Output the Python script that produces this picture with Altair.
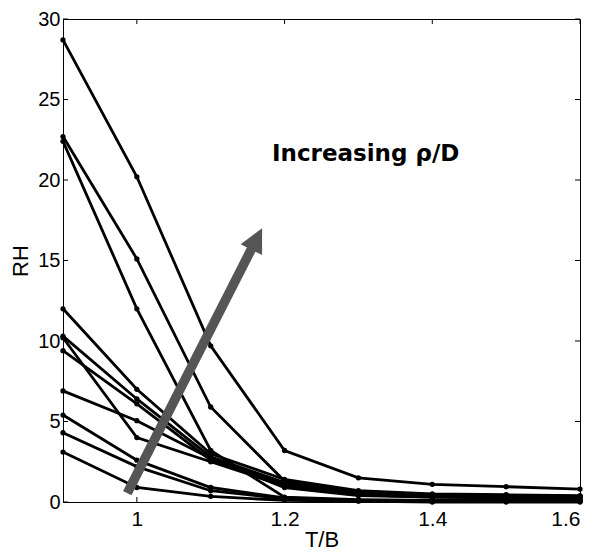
import altair as alt
import pandas as pd

# T/B positions
tb = [0.9, 1.0, 1.1, 1.2, 1.3, 1.4, 1.5, 1.6]

# RH series
rh_1 = [28.7, 20.2, 9.7, 3.2, 1.5, 1.1, 0.95, 0.8]
rh_2 = [22.7, 15.1, 5.9, 1.3, 0.6, 0.45, 0.4, 0.35]
rh_3 = [22.4, 12.0, 3.2, 0.3, 0.15, 0.1, 0.1, 0.1]
rh_4 = [12.0, 7.0, 3.0, 1.4, 0.7, 0.5, 0.45, 0.4]
rh_5 = [10.3, 6.4, 2.8, 1.2, 0.6, 0.45, 0.4, 0.35]
rh_6 = [10.2, 4.0, 2.5, 1.0, 0.45, 0.3, 0.25, 0.25]
rh_7 = [9.4, 6.1, 2.6, 1.1, 0.5, 0.35, 0.3, 0.3]
rh_8 = [6.9, 5.05, 2.7, 0.9, 0.4, 0.3, 0.25, 0.2]
rh_9 = [5.4, 2.6, 0.9, 0.25, 0.1, 0.1, 0.05, 0.05]
rh_10 = [4.3, 2.2, 0.7, 0.2, 0.1, 0.05, 0.05, 0.05]
rh_11 = [3.1, 0.9, 0.35, 0.1, 0.05, 0.0, 0.0, 0.0]

series = [rh_1, rh_2, rh_3, rh_4, rh_5, rh_6, rh_7, rh_8, rh_9, rh_10, rh_11]

x_ticks = [1.0, 1.2, 1.4, 1.6]
y_ticks = [0, 5, 10, 15, 20, 25, 30]

# arrow (data coordinates)
arrow_x = [0.987, 1.155]
arrow_y = [0.55, 15.7]
head_x = [1.1623]
head_y = [16.34]

note_x = [1.183]
note_y = [21.6]
note_text = ["Increasing ρ/D"]

rows = []
for i, s in enumerate(series):
    for x, y in zip(tb, s):
        rows.append({"series": i, "TB": x, "RH": y})
df = pd.DataFrame(rows)

W, H = 517, 483
xs = alt.Scale(domain=[0.9, 1.6], nice=False, zero=False)
ys = alt.Scale(domain=[0, 30], nice=False, zero=False)

X = lambda: alt.X("TB:Q", scale=xs, axis=alt.Axis(values=x_ticks, format="~g", title="T/B",
                                                   labelPadding=6, titlePadding=0))
Y = lambda: alt.Y("RH:Q", scale=ys, axis=alt.Axis(values=y_ticks, format="d", title="RH",
                                                   labelPadding=3, titlePadding=5,
                                                   labelFontSize=20))

lines = alt.Chart(df).mark_line(
    color="black", strokeWidth=2.8,
    point=alt.OverlayMarkDef(color="black", filled=True, size=28, opacity=1)
).encode(x=X(), y=Y(), detail="series:N")

xt = pd.DataFrame({"TB": x_ticks})
yt = pd.DataFrame({"RH": y_ticks})

tick_b = alt.Chart(xt).mark_rule(color="black", strokeWidth=1).encode(
    x=X(), y=alt.value(H), y2=alt.value(H - 5))
tick_t = alt.Chart(xt).mark_rule(color="black", strokeWidth=1).encode(
    x=X(), y=alt.value(0), y2=alt.value(5))
tick_l = alt.Chart(yt).mark_rule(color="black", strokeWidth=1).encode(
    y=Y(), x=alt.value(0), x2=alt.value(5))
tick_r = alt.Chart(yt).mark_rule(color="black", strokeWidth=1).encode(
    y=Y(), x=alt.value(W), x2=alt.value(W - 5))

adf = pd.DataFrame({"TB": arrow_x, "RH": arrow_y})
shaft = alt.Chart(adf).mark_line(color="#555555", strokeWidth=9.5, strokeCap="butt").encode(
    x=X(), y=Y())

hdf = pd.DataFrame({"TB": head_x, "RH": head_y})
head = alt.Chart(hdf).mark_point(
    shape="M0,-1L1,1L-1,1Z", size=576, filled=True, color="#555555",
    opacity=1, angle=26.6, strokeWidth=0
).encode(x=X(), y=Y())

tdf = pd.DataFrame({"TB": note_x, "RH": note_y, "t": note_text})
note = alt.Chart(tdf).mark_text(
    font="DejaVu Sans", fontWeight="bold", fontSize=23, align="left",
    baseline="middle", color="black"
).encode(x=X(), y=Y(), text="t:N")

chart = alt.layer(lines, tick_b, tick_t, tick_l, tick_r, shaft, head, note).properties(
    width=W, height=H,
    autosize=alt.AutoSizeParams(type="none"),
    padding={"left": 55, "top": 11, "right": 14, "bottom": 48},
).configure_view(stroke="black", strokeWidth=1).configure_axis(
    labelFont="Liberation Sans", labelFontSize=21, labelColor="black",
    titleFont="Liberation Sans", titleFontSize=22, titleFontWeight="normal", titleColor="black",
    domainColor="black", domainWidth=1, ticks=False, grid=False,
)

chart.save("out.html", embed_options={"renderer": "svg", "actions": False})
